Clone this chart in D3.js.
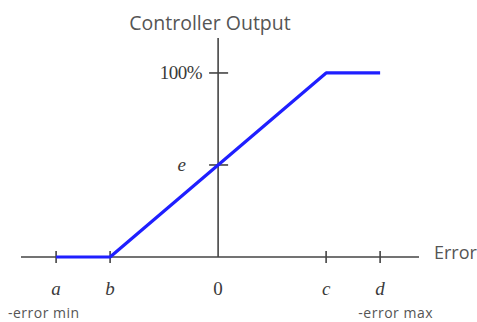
<!DOCTYPE html>
<html><head><meta charset="utf-8">
<script src="https://cdn.jsdelivr.net/npm/d3@7"></script>
<style>body{margin:0;background:#fff}svg{display:block}</style>
</head><body>
<script>
const xTicks = [-3, -2, 0, 2, 3];
const xTickLabels = ["a", "b", "0", "c", "d"];
const yTicks = [50, 100];
const yTickLabels = ["e", "100%"];
const curveX = [-3, -2, 2, 3];
const curveY = [0, 0, 100, 100];

const W = 477, H = 322;
const svg = d3.select("body").append("svg").attr("width", W).attr("height", H);
const x = d3.scaleLinear().domain([-3.65, 3.72]).range([21, 419]);
const y = d3.scaleLinear().domain([0, 119]).range([257, 38]);
const axisColor = "#444";
const textColor = "#3a3a3a";
const serif = "'Liberation Serif', 'DejaVu Serif', serif";
const sans = "'Open Sans', sans-serif";

// x axis line
svg.append("line").attr("x1", x(-3.65)).attr("x2", x(3.72)).attr("y1", y(0)).attr("y2", y(0))
  .attr("stroke", axisColor).attr("stroke-width", 1.6);
// y axis line
svg.append("line").attr("x1", x(0)).attr("x2", x(0)).attr("y1", y(119)).attr("y2", y(0))
  .attr("stroke", axisColor).attr("stroke-width", 1.6);

// x ticks
xTicks.forEach((t, i) => {
  if (t !== 0) {
    svg.append("line").attr("x1", x(t)).attr("x2", x(t)).attr("y1", y(0) - 6).attr("y2", y(0) + 6)
      .attr("stroke", axisColor).attr("stroke-width", 1.6);
  }
  svg.append("text").attr("x", x(t)).attr("y", 295).attr("text-anchor", "middle")
    .attr("font-family", serif).attr("font-size", 19)
    .attr("font-style", xTickLabels[i] === "0" ? "normal" : "italic")
    .attr("fill", textColor).text(xTickLabels[i]);
});
// y ticks
yTicks.forEach((t, i) => {
  svg.append("line").attr("x1", x(0) - 9).attr("x2", x(0) + 10).attr("y1", y(t)).attr("y2", y(t))
    .attr("stroke", axisColor).attr("stroke-width", 1.6);
  svg.append("text").attr("x", i === 0 ? 186 : 202).attr("y", y(t) + 6).attr("text-anchor", "end")
    .attr("font-family", serif).attr("font-size", 19)
    .attr("font-style", yTickLabels[i] === "e" ? "italic" : "normal")
    .attr("letter-spacing", i === 0 ? 0 : -0.5)
    .attr("fill", textColor).text(yTickLabels[i]);
});

// curve
const pts = curveX.map((v, i) => [x(v), y(curveY[i])]);
svg.append("path").attr("d", d3.line()(pts)).attr("fill", "none")
  .attr("stroke", "#1f1fff").attr("stroke-width", 3.2).attr("stroke-linejoin", "round");

// titles
svg.append("text").attr("x", 210).attr("y", 30).attr("text-anchor", "middle")
  .attr("font-family", sans).attr("font-size", 19.5).attr("fill", "#555")
  .text("Controller Output");
svg.append("text").attr("x", 434).attr("y", 259)
  .attr("font-family", sans).attr("font-size", 18).attr("fill", "#555")
  .text("Error");
svg.append("text").attr("x", 8).attr("y", 318)
  .attr("font-family", sans).attr("font-size", 14).attr("letter-spacing", 0.5).attr("fill", "#555")
  .text("-error min");
svg.append("text").attr("x", 433).attr("y", 318).attr("text-anchor", "end")
  .attr("font-family", sans).attr("font-size", 14).attr("letter-spacing", 0.5).attr("fill", "#555")
  .text("-error max");
</script>
</body></html>
